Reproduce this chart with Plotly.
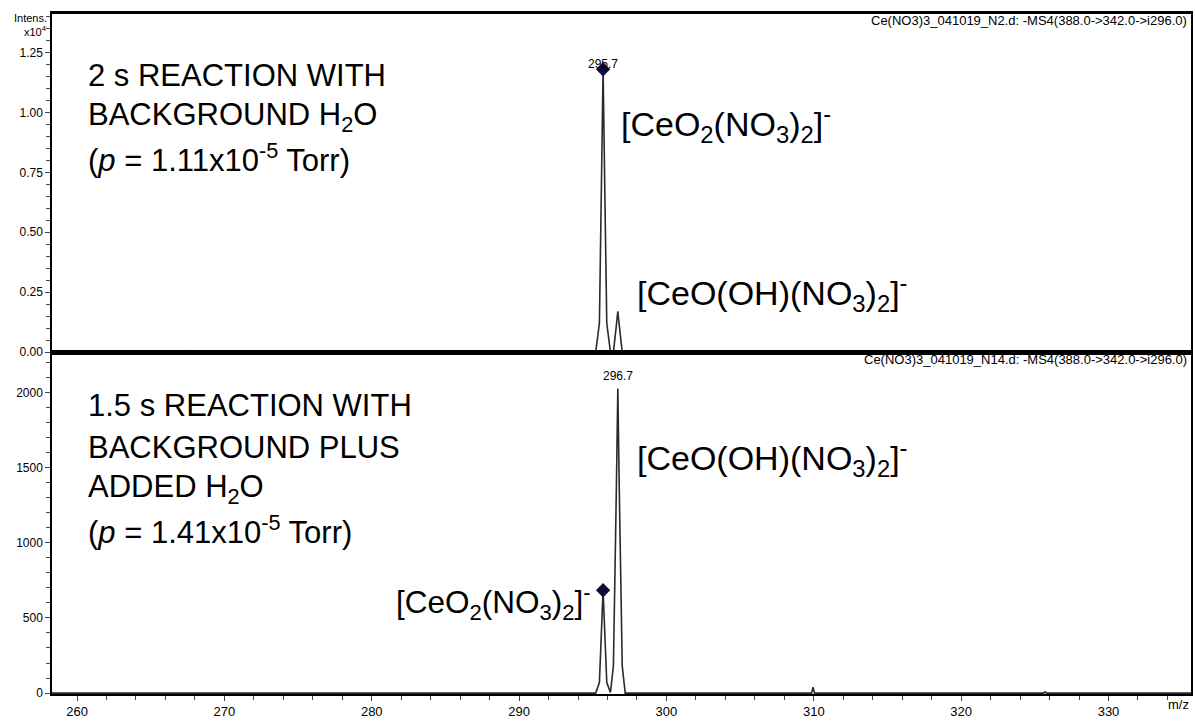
import plotly.graph_objects as go
from plotly.subplots import make_subplots

# ---------------- data ----------------
top_mz = [258.3, 267.55, 267.65, 267.75, 295.2, 295.45, 295.6, 295.7, 295.8, 295.95, 296.2,
          296.4, 296.6, 296.7, 296.8, 297.0, 335.6]
top_int = [0, 0, 0.006, 0, 0, 0.12, 0.75, 1.18, 0.75, 0.12, 0,
           0, 0.11, 0.17, 0.11, 0, 0]            # x10^4

bot_mz = [258.3, 295.2, 295.45, 295.6, 295.7, 295.8, 295.95, 296.2, 296.4, 296.6, 296.7,
          296.8, 297.0, 297.2, 309.85, 309.95, 310.05, 325.6, 325.7, 325.8, 335.6]
bot_int = [0, 0, 70, 440, 684, 440, 70, 5, 180, 1350, 2025,
           1350, 180, 0, 0, 40, 0, 0, 8, 0, 0]

top_marker_mz, top_marker_int = [295.7], [1.18]
bot_marker_mz, bot_marker_int = [295.7], [684]

top_peak_label, top_peak_label_mz, top_peak_label_int = "295.7", 295.7, 1.18
bot_peak_label, bot_peak_label_mz, bot_peak_label_int = "296.7", 296.7, 2025

top_header = "Ce(NO3)3_041019_N2.d: -MS4(388.0->342.0->i296.0)"
bot_header = "Ce(NO3)3_041019_N14.d: -MS4(388.0->342.0->i296.0)"

top_text = ["2 s REACTION WITH", "BACKGROUND H<sub>2</sub>O",
            "(<i>p</i> = 1.11x10<sup>-5</sup> Torr)"]
bot_text = ["1.5 s REACTION WITH", "BACKGROUND PLUS", "ADDED H<sub>2</sub>O",
            "(<i>p</i> = 1.41x10<sup>-5</sup> Torr)"]
ion_a = "[CeO<sub>2</sub>(NO<sub>3</sub>)<sub>2</sub>]<sup>-</sup>"
ion_b = "[CeO(OH)(NO<sub>3</sub>)<sub>2</sub>]<sup>-</sup>"

xticks = [260, 270, 280, 290, 300, 310, 320, 330]
top_yticks = [0.0, 0.25, 0.5, 0.75, 1.0, 1.25]
top_yticklabels = ["0.00", "0.25", "0.50", "0.75", "1.00", "1.25"]
bot_yticks = [0, 500, 1000, 1500, 2000]

# ---------------- layout helpers ----------------
W, H = 1195, 721
L, R, T, B = 52, 1193, 14, 700
SPLIT = 355
def px(x):
    return (x - L) / (R - L)
def py(y):
    return (B - y) / (B - T)

FONT = "Liberation Sans, Arial, sans-serif"
split_paper = py(SPLIT)

fig = make_subplots(rows=2, cols=1, shared_xaxes=False, vertical_spacing=0)

line_col = "#2a2a2a"
fig.add_trace(go.Scatter(x=top_mz, y=top_int, mode="lines",
                         line=dict(color=line_col, width=1.6), hoverinfo="skip"), row=1, col=1)
fig.add_trace(go.Scatter(x=bot_mz, y=bot_int, mode="lines",
                         line=dict(color=line_col, width=1.6), hoverinfo="skip"), row=2, col=1)
fig.add_trace(go.Scatter(x=top_marker_mz, y=top_marker_int, mode="markers",
                         marker=dict(symbol="diamond", size=11, color="#0c0c3c"),
                         hoverinfo="skip"), row=1, col=1)
fig.add_trace(go.Scatter(x=bot_marker_mz, y=bot_marker_int, mode="markers",
                         marker=dict(symbol="diamond", size=11, color="#0c0c3c"),
                         hoverinfo="skip"), row=2, col=1)

xr = [258.3, 335.6]
fig.update_layout(
    width=W, height=H, showlegend=False,
    paper_bgcolor="white", plot_bgcolor="white",
    margin=dict(l=L, r=W - R, t=T, b=H - B),
    font=dict(family=FONT, color="black"),
    xaxis=dict(domain=[0, 1], range=xr, showline=True, linecolor="black", linewidth=3,
               mirror=True, ticks="", showticklabels=False, showgrid=False, zeroline=False,
               anchor="y"),
    yaxis=dict(domain=[split_paper, 1], range=[0, 1.411], showline=True, linecolor="black",
               linewidth=1.5, mirror=True, ticks="outside", ticklen=5, tickwidth=1.2,
               tickvals=top_yticks, ticktext=top_yticklabels,
               tickfont=dict(size=12, family=FONT), showgrid=False, zeroline=False,
               minor=dict(dtick=0.05, tick0=0, ticks="outside", ticklen=4, tickwidth=1.2,
                          showgrid=False)),
    xaxis2=dict(domain=[0, 1], range=xr, showline=True, linecolor="black", linewidth=1.5,
                mirror=True, ticks="outside", ticklen=5, tickwidth=1.2, tickvals=xticks,
                tickfont=dict(size=13, family=FONT), showgrid=False, zeroline=False,
                minor=dict(dtick=2, tick0=260, ticks="outside", ticklen=4, tickwidth=1.2,
                           showgrid=False), anchor="y2"),
    yaxis2=dict(domain=[0, split_paper], range=[-6, 2268], showline=True, linecolor="black",
                linewidth=1.5, mirror=True, ticks="outside", ticklen=5, tickwidth=1.2,
                tickvals=bot_yticks, tickfont=dict(size=12, family=FONT), showgrid=False,
                zeroline=False,
                minor=dict(dtick=100, tick0=0, ticks="outside", ticklen=4, tickwidth=1.2,
                           showgrid=False)),
)

ann = []
def add(text, x, y, size, xanchor="left", yanchor="middle", **kw):
    ann.append(dict(text=text, x=px(x), y=py(y), xref="paper", yref="paper",
                    xanchor=xanchor, yanchor=yanchor, showarrow=False,
                    font=dict(size=size, family=FONT, color="black"), **kw))

# headers
add(top_header, 1191, 21, 13, xanchor="right")
add(bot_header, 1191, 363, 13, xanchor="right")
# axis titles
ann.append(dict(text="Intens.", x=0, y=py(18), xref="paper", yref="paper", xanchor="right",
                yanchor="middle", showarrow=False, xshift=-3,
                font=dict(size=11, family=FONT, color="black")))
ann.append(dict(text="x10<sup>4</sup>", x=0, y=py(31), xref="paper", yref="paper",
                xanchor="right", yanchor="middle", showarrow=False, xshift=-3,
                font=dict(size=11, family=FONT, color="black")))
ann.append(dict(text="m/z", x=1, y=py(711), xref="paper", yref="paper", xanchor="right",
                yanchor="middle", showarrow=False, font=dict(size=13, family=FONT, color="black")))

# big texts
for i, t in enumerate(top_text):
    add(t, 86, 76 + 41.5 * i, 31)
for i, t in enumerate(bot_text):
    add(t, 86, 409 + 42 * i, 31)
add(ion_a, 620, 125, 34)
add(ion_b, 636, 295, 34)
add(ion_b, 636, 462, 34)
add(ion_a, 594, 608, 31.5, xanchor="right")

fig.update_layout(annotations=ann)

# peak labels in data coords
fig.add_annotation(x=top_peak_label_mz, y=top_peak_label_int, xref="x", yref="y",
                   text=top_peak_label, showarrow=False, yanchor="bottom", yshift=-4,
                   font=dict(size=12, family=FONT, color="black"))
fig.add_annotation(x=bot_peak_label_mz, y=bot_peak_label_int, xref="x2", yref="y2",
                   text=bot_peak_label, showarrow=False, yanchor="bottom", yshift=4,
                   font=dict(size=12, family=FONT, color="black"))

fig.write_html("out.html")
